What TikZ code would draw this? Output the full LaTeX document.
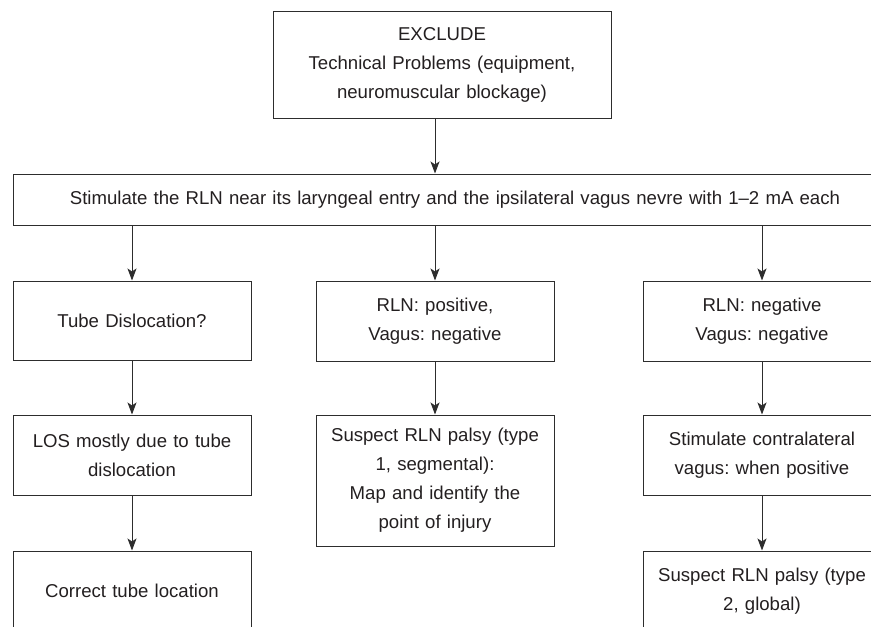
\documentclass[tikz,border=0pt]{standalone}
\usepackage{fontspec}
\setmainfont{Liberation Sans}
\usetikzlibrary{arrows.meta}
\definecolor{LineGray}{RGB}{45,45,45}
\definecolor{InkGray}{RGB}{35,31,32}
\frenchspacing

\begin{document}
\begin{tikzpicture} [x=1pt,y=-1pt, box/.style={draw=LineGray,line width=1pt,text=InkGray,align=center,inner xsep=2pt,inner ysep=0pt,font=\fontsize{18.6}{29}\selectfont}, colbox/.style={box,text width=234pt,minimum height=#1}, colbox/.default=80pt, flow/.style={LineGray,line width=1pt,-{Stealth[length=12pt,width=9pt,inset=3pt]}}]

\clip (0,0) rectangle (871,627);

% top and the long one
\node[box,text width=334pt,minimum height=107pt] (exclude) at (442,64.5) {EXCLUDE\\Technical Problems (equipment,\\neuromuscular blockage)};
\node[box,text width=880pt,minimum height=51pt] (stimulate) at (455,199.5) {Stimulate the RLN near its laryngeal entry and the ipsilateral vagus nevre with 1–2 mA each};

% left column
\node[colbox=79pt] (tubedis) at (132,320.5) {Tube Dislocation?};
\node[colbox] (losmost) at (132,455) {LOS mostly due to tube\\dislocation};
\node[colbox=79pt] (correct) at (132,590.5) {Correct tube location};

% middle column
\node[colbox] (rlnpos) at (435,321) {RLN: positive,\\Vagus: negative};
\node[colbox=131pt] (palsyone) at (435,480.5) {Suspect RLN palsy (type\\1, segmental):\\Map and identify the\\point of injury};

% right column (cut off at the page edge)
\node[colbox] (rlnneg) at (762,321) {RLN: negative\\Vagus: negative};
\node[colbox] (contra) at (762,455) {Stimulate contralateral\\vagus: when positive};
\node[colbox] (palsytwo) at (762,591) {Suspect RLN palsy (type\\2, global)};

% arrows
\draw[flow] (exclude.south -| rlnpos) -- (stimulate.north -| rlnpos);
\foreach \col in {tubedis,rlnpos,rlnneg} \draw[flow] (stimulate.south -| \col) -- (\col.north);
\draw[flow] (tubedis) -- (losmost);
\draw[flow] (losmost) -- (correct);
\draw[flow] (rlnpos) -- (palsyone);
\draw[flow] (rlnneg) -- (contra);
\draw[flow] (contra) -- (palsytwo);

\end{tikzpicture}
\end{document}
